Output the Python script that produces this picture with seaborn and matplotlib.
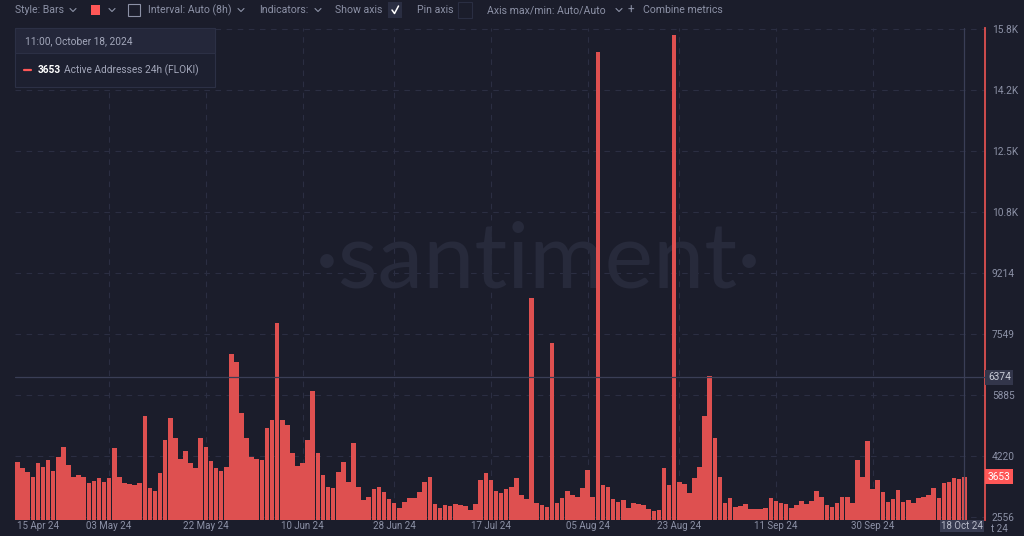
import matplotlib
matplotlib.use("Agg")
import matplotlib.pyplot as plt
from matplotlib.lines import Line2D
from matplotlib.patches import Rectangle
import pandas as pd
import seaborn as sns

# daily Active Addresses 24h (FLOKI), 15 Apr 24 -> 18 Oct 24
active_addresses = [
    4066, 3885, 3775, 3639, 4021, 3930, 4110, 3820, 4200, 4476,
    3975, 3657, 3700, 3657, 3475, 3548, 3612, 3520, 3612, 4430,
    3657, 3475, 3448, 3420, 3493, 5313, 3340, 3275, 3750, 4660,
    5250, 4700, 4150, 4367, 4021, 3885, 4700, 4476, 4085, 3885,
    3812, 3930, 7000, 6797, 5386, 4703, 4203, 4148, 4112, 4990,
    5200, 7850, 5204, 5068, 4294, 3948, 4021, 4658, 6000, 4294,
    3702, 3384, 3340, 3780, 4067, 3520, 4585, 3366, 3020, 3111,
    3311, 3384, 3248, 3056, 2929, 2802, 2975, 3066, 3066, 3248,
    3520, 3657, 2911, 2802, 2884, 2856, 2920, 2893, 2847, 2756,
    2911, 3566, 3748, 3566, 3270, 3202, 3330, 3366, 3612, 3157,
    3056, 8535, 2929, 2884, 2820, 7300, 2929, 3066, 3275, 3157,
    3111, 3340, 3839, 3111, 15250, 3430, 3384, 3038, 2975, 3020,
    2802, 2947, 2911, 2884, 2765, 2720, 2740, 3885, 3430, 15715,
    3520, 3457, 3220, 3612, 3930, 5300, 6400, 4700, 3657, 2947,
    3084, 2820, 2866, 2911, 2765, 2765, 2783, 2793, 3084, 2984,
    2938, 2911, 2802, 2875, 3002, 2902, 2993, 3270, 3111, 2893,
    2838, 2947, 3093, 3111, 2930, 4100, 3657, 4640, 3311, 3566,
    3248, 2956, 3038, 3293, 2975, 3020, 2947, 3066, 3093, 3157,
    3338, 3066, 3475, 3520, 3612, 3584, 3653,
]
day_index = list(range(len(active_addresses)))

date_ticks = [18, 37, 56, 74, 93, 112, 130, 149, 168]
date_labels = ['03 May 24', '22 May 24', '10 Jun 24', '28 Jun 24', '17 Jul 24',
               '05 Aug 24', '23 Aug 24', '11 Sep 24', '30 Sep 24']
first_date_label = '15 Apr 24'
last_date_label = '18 Oct 24'

ytick_labels = ['2556', '4220', '5885', '7549', '9214', '10.8K', '12.5K', '14.2K', '15.8K']
y_base = 2556
y_step = 1665
crosshair_value = 6374
last_value = 3653

BG = '#1b1d2b'
RED = '#de5050'
GRID = '#2b2e42'
TXT = '#8c91a6'
W, H = 1024, 536


def fx(x):
    return x / W


def fy(y):
    return 1 - y / H


def chevron(fig, x, y, color=TXT):
    fig.add_artist(Line2D([fx(x - 3), fx(x), fx(x + 3)], [fy(y - 1.5), fy(y + 1.5), fy(y - 1.5)],
                          color=color, lw=0.8, zorder=6))


sns.set_theme(style='dark')
plt.rcParams['font.family'] = ['Roboto', 'DejaVu Sans']

fig = plt.figure(figsize=(10.24, 5.36), dpi=100)
fig.patch.set_facecolor(BG)
ax = fig.add_axes([fx(15), fy(520), (985 - 15) / W, (520 - 28) / H])
ax.set_facecolor(BG)

df = pd.DataFrame({'day': day_index, 'value': active_addresses})
sns.barplot(data=df, x='day', y='value', color=RED, saturation=1, width=0.9,
            linewidth=0, ax=ax, zorder=2)

px_per_day = 5.09
units_per_px = y_step / 61
ax.set_xlim(-0.5, -0.5 + 970 / px_per_day)
ax.set_ylim(y_base - 3 * units_per_px, y_base + 489 * units_per_px)

# grid
ytick_pos = [y_base + i * y_step for i in range(len(ytick_labels))]
for v in ytick_pos:
    ax.axhline(v, color=GRID, lw=0.8, ls=(0, (5, 5)), zorder=0.5)
for d in date_ticks:
    ax.axvline(d, color=GRID, lw=0.8, ls=(0, (5, 5)), zorder=0.5)

# crosshair
ax.axhline(crosshair_value, color='#3a3e56', lw=0.9, zorder=3)
ax.axvline(185.9, color='#3a3e56', lw=0.9, zorder=3)

# watermark
ax.text(fx(538), fy(262), '\u00b7santiment\u00b7', transform=fig.transFigure, ha='center', va='center',
        fontsize=66, color='#272a3b', family=['Lato', 'DejaVu Sans'], zorder=0.6)

# axes styling
for side in ['top', 'left', 'bottom']:
    ax.spines[side].set_visible(False)
ax.spines['right'].set_color(RED)
ax.spines['right'].set_linewidth(1.3)
ax.yaxis.tick_right()
ax.set_yticks(ytick_pos, ytick_labels)
ax.tick_params(axis='y', length=0, pad=5, labelsize=7.3, labelcolor=TXT)
ax.set_xticks(date_ticks, date_labels)
ax.tick_params(axis='x', length=0, pad=1, labelsize=7, labelcolor=TXT)
ax.set_xlabel('')
ax.set_ylabel('')
ax.grid(False)

# value badges on the right axis
ax.text(1.003, crosshair_value, str(crosshair_value), transform=ax.get_yaxis_transform(),
        ha='left', va='center', fontsize=7.3, color='#c9ccd8',
        bbox=dict(boxstyle='square,pad=0.25', fc='#33364b', ec='none'))
ax.text(1.003, last_value, str(last_value), transform=ax.get_yaxis_transform(),
        ha='left', va='center', fontsize=7.3, color='white',
        bbox=dict(boxstyle='square,pad=0.25', fc='#ff5757', ec='none'))

# extra date labels
fig.text(fx(38), fy(526), first_date_label, ha='center', va='center', fontsize=7, color=TXT)
fig.text(fx(991), fy(529), 't 24', ha='left', va='center', fontsize=7, color=TXT)
fig.text(fx(962), fy(526), last_date_label, ha='center', va='center', fontsize=7, color='#b9bccb',
         bbox=dict(boxstyle='square,pad=0.15', fc='#363a50', ec='none'), zorder=6)

# toolbar
ty = 10
fig.text(fx(15), fy(ty), 'Style: Bars', ha='left', va='center', fontsize=7.6, color=TXT)
chevron(fig, 73, ty)
fig.add_artist(Rectangle((fx(91), fy(15)), 9 / W, 10 / H, transform=fig.transFigure,
                         fc='#ff5757', ec='none', zorder=6))
chevron(fig, 112, ty)
fig.add_artist(Rectangle((fx(128), fy(16)), 12 / W, 12 / H, transform=fig.transFigure,
                         fc='none', ec=TXT, lw=0.8, zorder=6))
fig.text(fx(148), fy(ty), 'Interval: Auto (8h)', ha='left', va='center', fontsize=7.6, color=TXT)
chevron(fig, 241, ty)
fig.text(fx(259), fy(ty), 'Indicators:', ha='left', va='center', fontsize=7.6, color=TXT)
chevron(fig, 318, ty)
fig.text(fx(335), fy(ty), 'Show axis', ha='left', va='center', fontsize=7.6, color=TXT)
fig.add_artist(Rectangle((fx(388), fy(18)), 14 / W, 16 / H, transform=fig.transFigure,
                         fc='#2a2e42', ec='none', zorder=6))
fig.add_artist(Line2D([fx(392), fx(394.5), fx(398.5)], [fy(10), fy(13.5), fy(6)],
                      color='white', lw=1.1, zorder=7))
fig.text(fx(417), fy(ty), 'Pin axis', ha='left', va='center', fontsize=7.6, color=TXT)
fig.add_artist(Rectangle((fx(458), fy(18)), 14 / W, 16 / H, transform=fig.transFigure,
                         fc='none', ec='#2a2e42', lw=0.8, zorder=6))
fig.text(fx(487), fy(ty), 'Axis max/min: Auto/Auto', ha='left', va='center', fontsize=7.6, color=TXT)
chevron(fig, 619, ty)
fig.text(fx(628), fy(ty), '+', ha='left', va='center', fontsize=8.5, color=TXT)
fig.text(fx(643), fy(ty), 'Combine metrics', ha='left', va='center', fontsize=7.6, color=TXT)

# legend box
fig.add_artist(Rectangle((fx(15), fy(87)), 200 / W, 59 / H, transform=fig.transFigure,
                         fc='#1d2030', ec='#2c3045', lw=0.8, zorder=5))
fig.add_artist(Rectangle((fx(15), fy(53)), 200 / W, 25 / H, transform=fig.transFigure,
                         fc='#24273a', ec='#2c3045', lw=0.8, zorder=5))
fig.text(fx(25), fy(41), '11:00, October 18, 2024', ha='left', va='center', fontsize=7.3,
         color='#a3a7ba', zorder=7)
fig.add_artist(Line2D([fx(24), fx(31)], [fy(70), fy(70)], color='#ff5757', lw=1.6, zorder=7))
fig.text(fx(38), fy(70), str(last_value), ha='left', va='center', fontsize=7.3,
         color='white', fontweight='bold', zorder=7)
fig.text(fx(64), fy(70), 'Active Addresses 24h (FLOKI)', ha='left', va='center', fontsize=7.3,
         color='#a3a7ba', zorder=7)

fig.savefig('out.png', dpi=100, facecolor=BG)
